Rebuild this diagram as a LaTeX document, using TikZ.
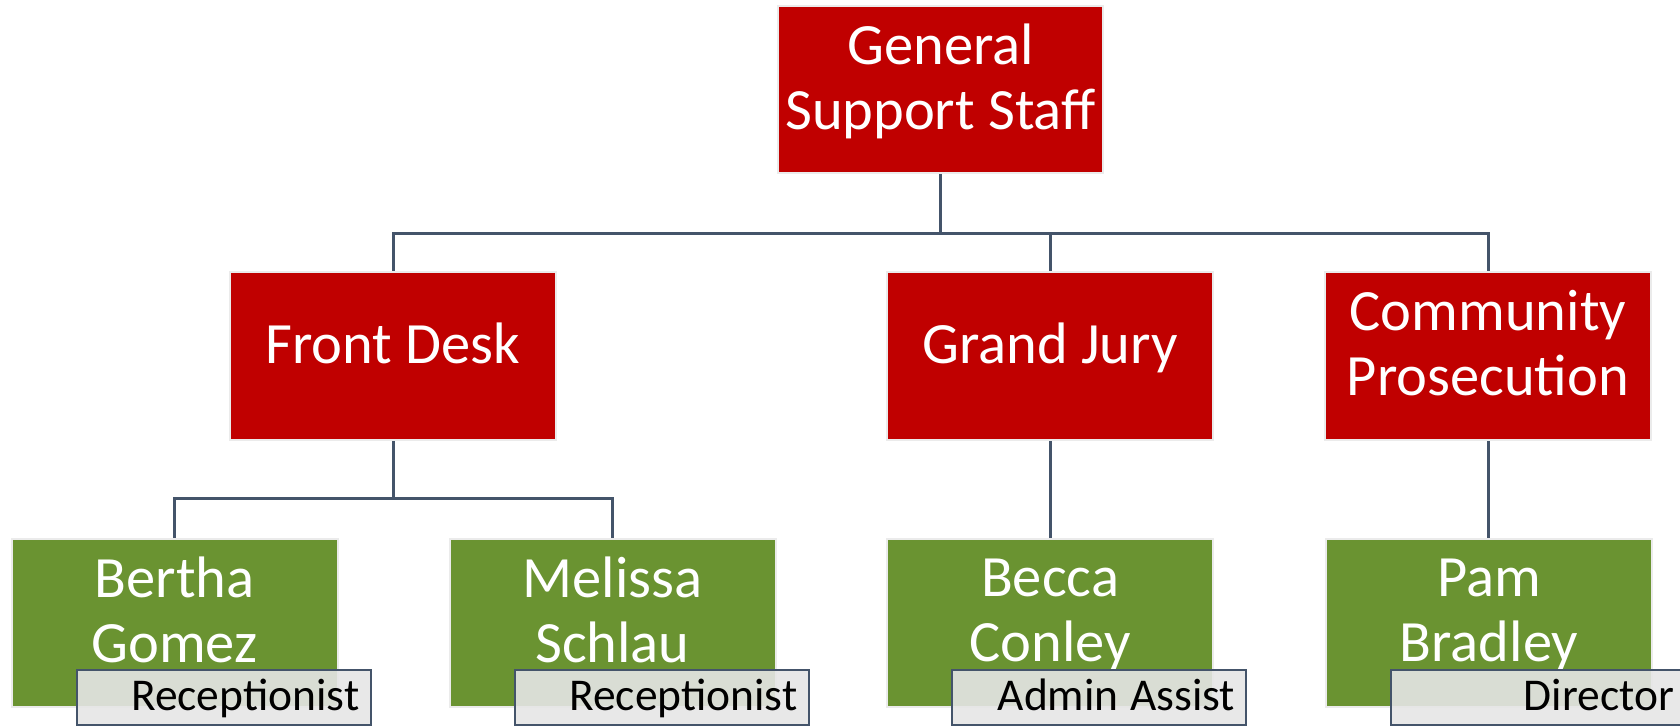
\documentclass[tikz,border=0pt]{standalone}
\usepackage{fontspec}
\setmainfont{Carlito}
\definecolor{unitred}{HTML}{C00000}
\definecolor{staffgreen}{HTML}{6A9331}
\definecolor{slate}{HTML}{44546A}
\definecolor{tagfill}{HTML}{E6E6E6}
\begin{document}
\begin{tikzpicture}[x=1pt,y=-1pt,
  box/.style={draw=black!8, line width=2pt, minimum width=326pt, minimum height=168pt,
    inner sep=0pt, text=white, align=center, text depth=26pt,
    font=\fontsize{58.5}{65}\selectfont},
  unit/.style={box, fill=unitred},
  staff/.style={box, fill=staffgreen},
  tag/.style={draw=slate, line width=2pt, fill=tagfill, fill opacity=0.9, text opacity=1,
    minimum width=294pt, minimum height=55pt, anchor=north west,
    text width=272pt, inner xsep=11pt, align=right, text height=30pt, text depth=5pt,
    font=\fontsize{45.5}{50}\selectfont},
  link/.style={draw=slate, line width=3pt}]
\useasboundingbox (0,0) rectangle (1680,726);
\coordinate (bus1) at (0,233);
\coordinate (bus2) at (0,498);

% units
\node[unit] (top) at (940.5,89.5) [minimum width=325pt, minimum height=167pt] {General\\Support Staff};
\node[unit] (fd) at (393,356) {Front Desk};
\node[unit] (gj) at (1050,356) {Grand Jury};
\node[unit] (cp) at (1488,356) {Community\\Prosecution};

% connectors
\draw[link] (top.south) -- (top.south |- bus1) -| (fd.north);
\draw[link] (top.south) -- (top.south |- bus1) -| (gj.north);
\draw[link] (top.south) -- (top.south |- bus1) -| (cp.north);

% staff
\node[staff] (bertha) at (174.5,623) {Bertha\\Gomez};
\node[staff] (melissa) at (612.5,623) {Melissa\\Schlau};
\node[staff] (becca) at (1050,623) {Becca\\Conley};
\node[staff] (pam) at (1489,623) {Pam\\Bradley};

\draw[link] (fd.south) -- (fd.south |- bus2) -| (bertha.north);
\draw[link] (fd.south) -- (fd.south |- bus2) -| (melissa.north);
\draw[link] (gj.south) -- (becca.north);
\draw[link] (cp.south) -- (cp.south |- becca.north);

% job titles
\node[tag] (t1) at ([xshift=65pt,yshift=-131pt]bertha.north west) {Receptionist};
\node[tag] (t2) at ([xshift=65pt,yshift=-131pt]melissa.north west) {Receptionist};
\node[tag] (t3) at ([xshift=65pt,yshift=-131pt]becca.north west) {Admin\kern-0.08em{} Assist};
\node[tag] (t4) at ([xshift=65pt,yshift=-131pt]pam.north west) {Director};
\end{tikzpicture}
\end{document}
